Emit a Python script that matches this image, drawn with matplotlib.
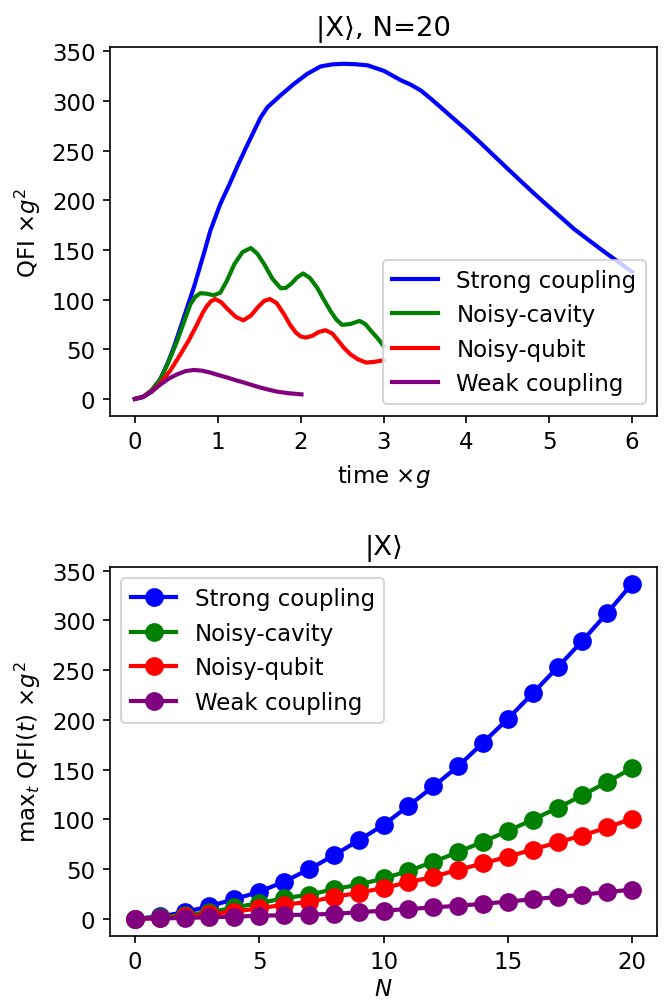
import matplotlib
matplotlib.use("Agg")
import matplotlib.pyplot as plt

plt.rcParams['font.size'] = 11

# top panel: QFI vs time for N=20
t_strong = [0, 0.1, 0.2, 0.3, 0.39, 0.47, 0.55, 0.63, 0.71, 0.83, 0.91, 1.03, 1.14, 1.24, 1.34,
            1.44, 1.52, 1.60, 1.76, 1.92, 2.08, 2.24, 2.38, 2.52, 2.66, 2.81, 3.01, 3.20, 3.33,
            3.45, 3.57, 3.69, 3.85, 4.01, 4.17, 4.33, 4.49, 4.65, 4.81, 4.98, 5.14, 5.30, 5.46,
            5.62, 5.80, 6.0]
qfi_strong = [0, 2.2, 8.5, 19, 34.9, 52, 71.8, 92, 112, 145.8, 169.4, 196.3, 216, 235, 253,
              270.3, 284, 293.9, 306, 317.4, 327.5, 334.9, 337, 337.6, 337.2, 336, 330.3, 321.4, 316.5,
              310.7, 302.5, 293.8, 282, 270.3, 258, 245.2, 232.5, 219.9, 207.5, 194.7, 183, 171.1, 161,
              150.9, 140, 128]

t_cavity = [0, 0.1, 0.2, 0.31, 0.41, 0.51, 0.59, 0.67, 0.73, 0.79, 0.87, 0.95, 1.03, 1.11, 1.20,
            1.30, 1.40, 1.48, 1.56, 1.66, 1.76, 1.82, 1.88, 1.96, 2.03, 2.11, 2.20, 2.28, 2.36,
            2.43, 2.50, 2.60, 2.71, 2.78, 2.85, 2.93, 3.0]
qfi_cavity = [0, 2.2, 8.5, 20, 38, 58.4, 77, 95.4, 103, 106.5, 106, 104.4, 107, 119, 135.8,
              148, 152, 146, 135.8, 121, 111.5, 111.8, 115.6, 122.5, 126.4, 122, 112, 100, 88.6,
              80, 74.6, 75.5, 78.6, 75.5, 68.5, 61, 53.3]

t_qubit = [0, 0.1, 0.2, 0.31, 0.43, 0.55, 0.65, 0.75, 0.82, 0.87, 0.92, 0.97, 1.04, 1.12, 1.22,
           1.31, 1.40, 1.48, 1.56, 1.63, 1.71, 1.80, 1.87, 1.94, 2.00, 2.06, 2.14, 2.22, 2.30,
           2.38, 2.45, 2.52, 2.60, 2.69, 2.79, 2.88, 3.0]
qfi_qubit = [0, 2, 7.5, 16, 29, 45, 59, 75, 87, 93.7, 98.5, 100.6, 97.5, 90.4, 82.5,
             79.2, 84, 92, 98.8, 100.6, 96.5, 85.3, 75, 67, 63, 61.8, 63.5, 67.5, 69.2,
             66, 59, 51.7, 45, 40, 36.6, 37.3, 38.9]

t_weak = [0, 0.1, 0.2, 0.31, 0.41, 0.51, 0.61, 0.71, 0.81, 0.91, 1.01, 1.12, 1.22, 1.32, 1.42,
          1.52, 1.62, 1.72, 1.86, 2.01]
qfi_weak = [0, 2, 7, 14.7, 20.5, 24.8, 28, 29.2, 28.5, 26.5, 24, 21.4, 18.8, 16.4, 13.8,
            11.3, 9.2, 7.3, 5.7, 4.6]

# bottom panel: max over t of QFI vs N
N = list(range(21))
max_strong = [0, 2.3, 6.5, 12.7, 19.6, 27.1, 37.3, 49.7, 63.7, 78.8, 94.4, 113.4, 133, 153.3,
              177, 201, 226.7, 252.8, 279.5, 307.6, 337]
max_cavity = [0, 1.5, 3.9, 6.5, 11.4, 15.7, 20.6, 24.2, 29.7, 34.3, 40.5, 48, 57.2, 67,
              77.5, 88.2, 99.7, 111.4, 124.2, 137.6, 151.5]
max_qubit = [0, 0.8, 2.3, 4.6, 7.2, 10.5, 14.1, 17, 21.9, 26.1, 31, 36.6, 42.2, 49.3,
             55.6, 62.4, 69.6, 76.8, 83.7, 91.8, 100.8]
max_weak = [0, 0.3, 0.8, 1.5, 2.2, 3.0, 3.6, 4.2, 4.9, 6.5, 8.2, 9.8, 11.4, 13.1,
            15, 17.3, 19.6, 21.9, 24.2, 26.8, 29.4]

labels = ['Strong coupling', 'Noisy-cavity', 'Noisy-qubit', 'Weak coupling']
colors = ['blue', 'green', 'red', 'purple']

fig, (ax1, ax2) = plt.subplots(2, 1, figsize=(664/150, 1007/150), dpi=150)
fig.subplots_adjust(left=0.1657, right=0.9895, top=0.9523, bottom=0.07, hspace=0.41)

top_data = [(t_strong, qfi_strong), (t_cavity, qfi_cavity), (t_qubit, qfi_qubit), (t_weak, qfi_weak)]
for (tt, qq), lab, c in zip(top_data, labels, colors):
    ax1.plot(tt, qq, color=c, label=lab, linewidth=2)
ax1.set_title('|X⟩, N=20')
ax1.set_xlabel(r'time $\times g$')
ax1.set_ylabel(r'QFI $\times g^2$')
ax1.set_xticks(range(7))
ax1.set_yticks(range(0, 351, 50))
ax1.legend(loc='lower right')

bottom_data = [max_strong, max_cavity, max_qubit, max_weak]
for qq, lab, c in zip(bottom_data, labels, colors):
    ax2.plot(N, qq, color=c, label=lab, linewidth=2, marker='o', markersize=8)
ax2.set_title('|X⟩')
ax2.set_xlabel(r'$N$', labelpad=2)
ax2.set_ylabel(r'max$_t$ QFI$(t)$ $\times g^2$')
ax2.set_xticks(range(0, 21, 5))
ax2.set_yticks(range(0, 351, 50))
ax2.legend(loc='upper left')

fig.savefig('out.png', dpi=150)
